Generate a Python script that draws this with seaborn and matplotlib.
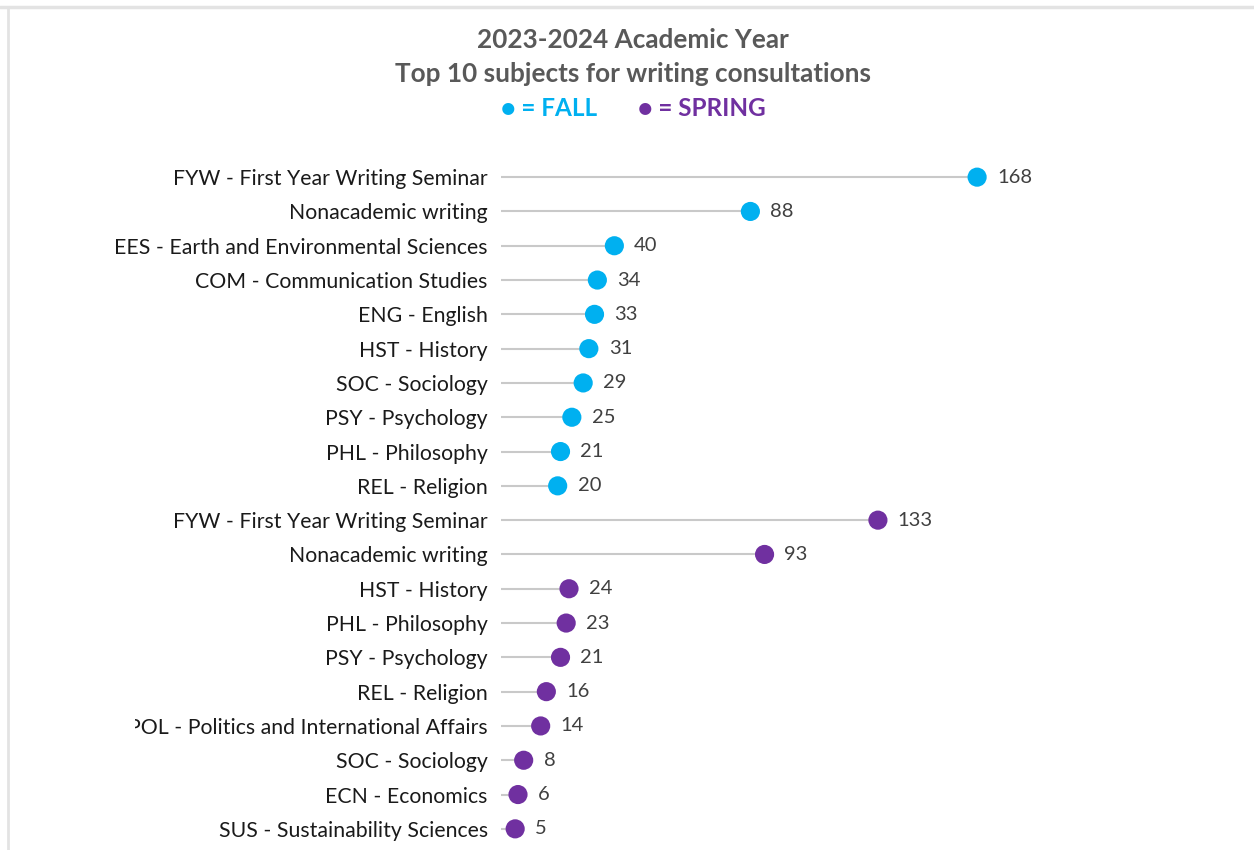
import numpy as np
import pandas as pd
import seaborn as sns
import matplotlib.pyplot as plt
from matplotlib.lines import Line2D
from matplotlib.transforms import Bbox, TransformedBbox

fall_subjects = ['FYW - First Year Writing Seminar', 'Nonacademic writing',
                 'EES - Earth and Environmental Sciences', 'COM - Communication Studies',
                 'ENG - English', 'HST - History', 'SOC - Sociology', 'PSY - Psychology',
                 'PHL - Philosophy', 'REL - Religion']
fall_counts = [168, 88, 40, 34, 33, 31, 29, 25, 21, 20]

spring_subjects = ['FYW - First Year Writing Seminar', 'Nonacademic writing',
                   'HST - History', 'PHL - Philosophy', 'PSY - Psychology', 'REL - Religion',
                   'POL - Politics and International Affairs', 'SOC - Sociology',
                   'ECN - Economics', 'SUS - Sustainability Sciences']
spring_counts = [133, 93, 24, 23, 21, 16, 14, 8, 6, 5]

seasons = ['FALL', 'SPRING']
colors = {'FALL': '#00B0F0', 'SPRING': '#7030A0'}

df = pd.DataFrame({
    'subject': fall_subjects + spring_subjects,
    'count': fall_counts + spring_counts,
    'season': ['FALL'] * len(fall_counts) + ['SPRING'] * len(spring_counts),
})
df['row'] = np.arange(len(df))

sns.set_theme(style='white')
plt.rcParams['font.family'] = ['Lato', 'DejaVu Sans']

W, H = 1254, 850
fig = plt.figure(figsize=(W / 100, H / 100), dpi=100)
ax = fig.add_axes([501 / W, 1 - 846 / H, 748 / W, (846 - 160) / H])

# stems
ax.hlines(df['row'], 0, df['count'], color='#c9c9c9', lw=1.5, zorder=1)
# dots
sns.scatterplot(data=df, x='count', y='row', hue='season', palette=colors,
                s=190, edgecolor='none', legend=False, ax=ax, zorder=3)

for _, r in df.iterrows():
    ax.text(r['count'] + 7, r['row'], str(r['count']), va='center', ha='left',
            fontsize=14.5, color='#404040')

ax.set_xlim(0, 748 / 2.834)
ax.set_ylim(len(df) - 0.5, -0.5)
ax.set_yticks(df['row'])
ax.set_yticklabels(df['subject'], fontsize=15.3, color='#1a1a1a')
ax.tick_params(axis='y', length=0, pad=9.5)
ax.set_xticks([])
ax.set_xlabel('')
ax.set_ylabel('')
sns.despine(ax=ax, left=True, bottom=True)

# the long POL label is cut off at its left end in the original
clip = TransformedBbox(Bbox([[135 / W, 0], [1, 1]]), fig.transFigure)
for lab in ax.get_yticklabels():
    if lab.get_text().startswith('POL'):
        lab.set_clip_on(True)
        lab.set_clip_box(clip)

# titles
fig.text(0.505, 1 - 40 / H, '2023-2024 Academic Year', ha='center', va='center',
         fontsize=18.8, fontweight='bold', color='#595959')
fig.text(0.505, 1 - 74 / H, 'Top 10 subjects for writing consultations', ha='center',
         va='center', fontsize=18.8, fontweight='bold', color='#595959')
fig.text(549 / W, 1 - 109 / H, '\u25CF = FALL', ha='center', va='center', fontsize=17.5,
         fontweight='bold', color=colors['FALL'])
fig.text(702 / W, 1 - 109 / H, '\u25CF = SPRING', ha='center', va='center', fontsize=17.5,
         fontweight='bold', color=colors['SPRING'])

# light frame
fig.add_artist(Line2D([0, 1], [1 - 7 / H, 1 - 7 / H], color='#e3e3e3', lw=2.5,
                      transform=fig.transFigure))
fig.add_artist(Line2D([8 / W, 8 / W], [0, 1 - 7 / H], color='#e3e3e3', lw=2,
                      transform=fig.transFigure))

fig.savefig('out.png', dpi=100)
